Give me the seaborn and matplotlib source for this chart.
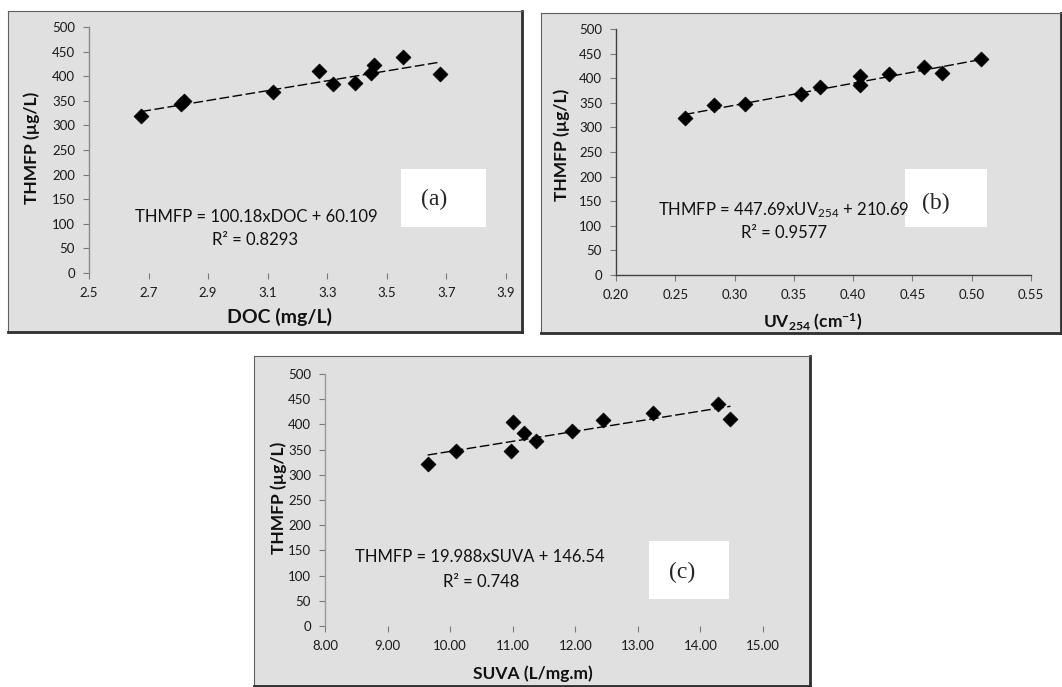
import numpy as np
import pandas as pd
import matplotlib
matplotlib.use("Agg")
import matplotlib.pyplot as plt
from matplotlib.patches import Rectangle
import seaborn as sns

# Chart style
sns.set_theme(style="white")
plt.rcParams["font.family"] = ["Lato", "DejaVu Sans"]
plt.rcParams["mathtext.fontset"] = "custom"
plt.rcParams["mathtext.rm"] = "Lato"
plt.rcParams["mathtext.it"] = "Lato:italic"
plt.rcParams["mathtext.bf"] = "Lato:bold"

# Data
doc = [2.676, 2.808, 2.819, 3.117, 3.272, 3.319, 3.392, 3.446, 3.457, 3.553, 3.679]
thmfp_doc = [320, 344, 349, 367, 410, 384, 386, 406, 423, 440, 404]

uv254 = [0.258, 0.283, 0.309, 0.356, 0.372, 0.406, 0.406, 0.430, 0.460, 0.475, 0.508]
thmfp_uv = [319, 345, 348, 367, 382, 405, 386, 408, 422, 410, 439]

suva = [9.64, 10.09, 10.97, 11.01, 11.18, 11.38, 11.94, 12.44, 13.24, 14.28, 14.48]
thmfp_suva = [321, 347, 347, 405, 382, 367, 387, 408, 423, 441, 410]

# Trend lines reported on the chart
slopes = [100.18, 447.69, 19.988]
intercepts = [60.109, 210.69, 146.54]
equations = ["THMFP = 100.18xDOC + 60.109",
             r"THMFP = 447.69xUV$_{254}$ + 210.69",
             "THMFP = 19.988xSUVA + 146.54"]
r2_labels = ["R² = 0.8293", "R² = 0.9577", "R² = 0.748"]
panel_tags = ["(a)", "(b)", "(c)"]
x_labels = ["DOC (mg/L)", r"UV$_\mathbf{254}$ (cm$^\mathbf{-1}$)", "SUVA (L/mg.m)"]
x_ticks = [np.arange(2.5, 3.95, 0.2), np.arange(0.20, 0.5501, 0.05), np.arange(8, 15.01, 1.0)]
x_fmt = ["{:.1f}", "{:.2f}", "{:.2f}"]
y_ticks = list(range(0, 501, 50))

W, H = 1062, 687
fig = plt.figure(figsize=(W / 100, H / 100), dpi=100)
fig.patch.set_facecolor("white")


def frac(x0, y0, x1, y1):
    # pixel box (top-left origin) -> figure fraction rect
    return [x0 / W, 1 - y1 / H, (x1 - x0) / W, (y1 - y0) / H]


def pt(x, y):
    return x / W, 1 - y / H


frames = [(8, 11, 522, 332), (541, 13, 1061, 333), (254, 356, 810, 686)]
axes_boxes = [(89, 27, 506, 273), (616, 29, 1031, 275), (325, 374, 763, 626)]
tag_boxes = [(401, 169, 486, 227), (905, 169, 987, 227), (649, 541, 729, 599)]
tag_pos = [(434, 199), (936, 203), (682, 572)]
eq_pos = [(256, 217), (784, 210), (480, 557)]
r2_pos = [(255, 240), (784, 233), (481, 582)]
xlab_pos = [(0.456, -0.14), (0.475, -0.15), (0.475, -0.155)]
xlab_size = [14, 12.5, 12.5]
ylab_pos = [(-0.1175, 0.508), (-0.111, 0.53), (-0.087, 0.51)]
spine_cols = ["#8a8a8a", "#404040", "#9a9a9a"]

datasets = [(doc, thmfp_doc), (uv254, thmfp_uv), (suva, thmfp_suva)]

for i, (xs, ys) in enumerate(datasets):
    # grey chart area with frame
    bg = fig.add_axes(frac(*frames[i]))
    bg.set_facecolor("#e0e0e0")
    bg.set_xticks([])
    bg.set_yticks([])
    for side in ["top", "left"]:
        bg.spines[side].set_color("#606060")
        bg.spines[side].set_linewidth(0.8)
    for side in ["right", "bottom"]:
        bg.spines[side].set_color("#2e2e2e")
        bg.spines[side].set_linewidth(2.0)

    ax = fig.add_axes(frac(*axes_boxes[i]))
    ax.set_facecolor("none")
    df = pd.DataFrame({"x": xs, "y": ys})

    # fitted trend line from the reported equation
    x_line = np.array([min(xs), max(xs)])
    line_df = pd.DataFrame({"x": x_line, "y": slopes[i] * x_line + intercepts[i]})
    sns.lineplot(data=line_df, x="x", y="y", ax=ax, color="black", linewidth=1.0,
                 linestyle=(0, (7, 2.5)), zorder=2)
    sns.scatterplot(data=df, x="x", y="y", ax=ax, marker="D", s=58, color="black",
                    edgecolor="black", linewidth=0.5, zorder=3)

    ax.set_xlim(x_ticks[i][0], x_ticks[i][-1])
    ax.set_ylim(0, 500)
    ax.set_xticks(x_ticks[i])
    ax.set_xticklabels([x_fmt[i].format(v) for v in x_ticks[i]], fontsize=9.5, color="#1a1a1a")
    ax.set_yticks(y_ticks)
    ax.set_yticklabels([str(v) for v in y_ticks], fontsize=9.5, color="#1a1a1a")
    ax.tick_params(axis="both", direction="out", length=4, width=0.8, color="#7a7a7a",
                   bottom=True, left=True, pad=6)

    for side in ["top", "right"]:
        ax.spines[side].set_visible(False)
    ax.spines["left"].set_color(spine_cols[i])
    ax.spines["left"].set_linewidth(1.0)
    if i == 1:
        ax.spines["bottom"].set_color(spine_cols[i])
        ax.spines["bottom"].set_linewidth(1.0)
    else:
        ax.spines["bottom"].set_visible(False)

    ax.set_xlabel(x_labels[i], fontsize=xlab_size[i], fontweight="bold", color="#111111")
    ax.set_ylabel("THMFP (µg/L)", fontsize=12.5, fontweight="bold", color="#111111")
    ax.xaxis.set_label_coords(*xlab_pos[i])
    ax.yaxis.set_label_coords(*ylab_pos[i])

    # white tag box and panel letter
    box = frac(*tag_boxes[i])
    fig.add_artist(Rectangle(box[:2], box[2], box[3], transform=fig.transFigure,
                             facecolor="white", edgecolor="none", zorder=5))
    fig.text(*pt(*tag_pos[i]), panel_tags[i], family="Liberation Serif", fontsize=17,
             ha="center", va="center", zorder=6)

    fig.text(*pt(*eq_pos[i]), equations[i], fontsize=12, ha="center", va="center",
             color="#111111", zorder=6)
    fig.text(*pt(*r2_pos[i]), r2_labels[i], fontsize=12, ha="center", va="center",
             color="#111111", zorder=6)

plt.savefig("out.png", dpi=100)
plt.close()
